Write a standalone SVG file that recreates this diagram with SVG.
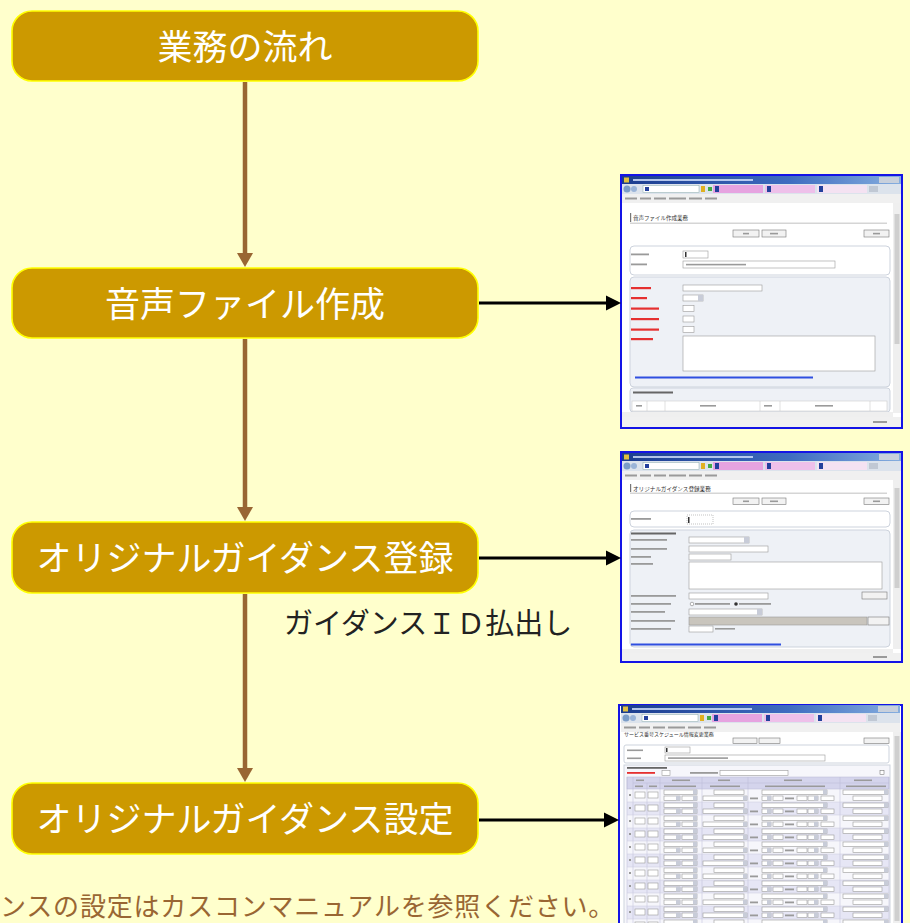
<svg xmlns="http://www.w3.org/2000/svg" width="910" height="923" viewBox="0 0 910 923">
<defs>
<style>
.node rect{fill:#CC9900;stroke:#FFFF00;stroke-width:1.6}
.node text{fill:#fff;font-family:"Noto Sans CJK JP","Noto Sans",sans-serif;font-size:35px;text-anchor:middle}
.flow line{stroke:#996633;stroke-width:4.5}
.flow polygon{fill:#996633}
.link line{stroke:#000;stroke-width:3}
.link polygon{fill:#000}
.frame{fill:#fff;stroke:#1414E6;stroke-width:2}
.tb{fill:url(#tbg)}
.bar{fill:#DCE3EC}
.menu{fill:#F0F0F0}
.ft{fill:#9a9a9a}
.fd{fill:#fff;stroke:#9a9a9a;stroke-width:0.6}
.ab{fill:#C8CCD8}
.btn{fill:#F2F2F2;stroke:#777;stroke-width:0.6}
.pw{fill:#fff;stroke:#CDD3DD;stroke-width:1}
.pb{fill:#EEF1F6;stroke:#CDD3DD;stroke-width:1}
.red{fill:#E53030}
.blu{fill:#2F4FE0}
.ico{fill:#23409C}
.sh{font-family:"Noto Sans CJK JP","Noto Sans",sans-serif;fill:#333}
</style>
<linearGradient id="tbg" x1="0" x2="1" y1="0" y2="0">
<stop offset="0" stop-color="#1B3C8E"/><stop offset="0.6" stop-color="#3E6CC0"/><stop offset="1" stop-color="#86AEDF"/>
</linearGradient>
<g id="chrome">
<rect class="tb" x="1" y="1" width="279" height="8"/>
<rect x="3" y="2.5" width="5" height="5" fill="#E0C040"/>
<rect x="12" y="4" width="120" height="2" fill="#D6E4FF" opacity="0.8"/>
<rect x="258" y="2" width="20" height="6" fill="#C8D0DC"/>
<rect class="bar" x="1" y="9" width="279" height="10"/>
<circle cx="6" cy="14" r="3.5" fill="#7A9CC8"/>
<circle cx="13" cy="14" r="3" fill="#9AB4D8"/>
<rect x="22" y="10.5" width="56" height="7" fill="#fff" stroke="#8AA" stroke-width="0.5"/>
<rect class="ico" x="24" y="12" width="4" height="4"/>
<rect x="80" y="11" width="4" height="6" fill="#E0B020"/>
<rect x="87" y="12" width="4" height="4" fill="#4A4"/>
<rect x="92" y="10" width="50" height="8" fill="#E6A3E0"/>
<rect class="ico" x="94" y="11" width="4" height="6"/>
<rect x="144" y="10" width="50" height="8" fill="#EEC0EA"/>
<rect class="ico" x="146" y="11" width="4" height="6"/>
<rect x="196" y="10" width="50" height="8" fill="#F4E2F2"/>
<rect class="ico" x="198" y="11" width="4" height="6"/>
<rect x="248" y="11" width="9" height="6" fill="#C0C8D4"/>
<rect class="menu" x="1" y="19" width="279" height="9"/>
<rect class="ft" x="4" y="22.5" width="12" height="2"/>
<rect class="ft" x="19" y="22.5" width="11" height="2"/>
<rect class="ft" x="33" y="22.5" width="12" height="2"/>
<rect class="ft" x="48" y="22.5" width="17" height="2"/>
<rect class="ft" x="68" y="22.5" width="13" height="2"/>
<rect class="ft" x="84" y="22.5" width="12" height="2"/>
</g>
<g id="rw">
<rect class="fd" x="635" y="3" width="10" height="6"/>
<rect class="fd" x="648" y="3" width="10" height="6"/>
<rect class="fd" x="664" y="1" width="33" height="4.5"/>
<rect class="fd" x="664" y="7" width="16" height="4.5"/>
<rect class="fd" x="682" y="7" width="15" height="4.5"/>
<rect class="fd" x="714" y="1" width="30" height="4.5"/>
<rect class="fd" x="703" y="7" width="44" height="4.5"/>
<rect class="fd" x="762" y="1" width="65" height="4.5"/>
<rect class="fd" x="762" y="7" width="9" height="4.5"/>
<rect class="fd" x="773" y="7" width="10" height="4.5"/>
<rect class="fd" x="797" y="7" width="10" height="4.5"/>
<rect class="fd" x="808" y="7" width="10" height="4.5"/>
<rect class="fd" x="821" y="7" width="13" height="4.5"/>
<rect class="fd" x="843" y="1" width="45" height="4.5"/>
<rect class="fd" x="853" y="7" width="29" height="4.5"/>
<rect class="ab" x="693" y="1" width="4" height="4.5"/>
<rect class="ab" x="676" y="7" width="4" height="4.5"/>
<rect class="ab" x="693" y="7" width="4" height="4.5"/>
<rect class="ab" x="743" y="7" width="4" height="4.5"/>
<rect class="ab" x="823" y="1" width="4" height="4.5"/>
<rect class="ab" x="767" y="7" width="4" height="4.5"/>
<rect class="ab" x="814" y="7" width="4" height="4.5"/>
<rect class="ab" x="884" y="1" width="4" height="4.5"/>
<rect class="ft" x="750" y="8.5" width="8" height="1.8"/>
<rect class="ft" x="785" y="8.5" width="9" height="1.8"/>
<rect class="ft" x="629" y="5" width="2" height="2"/>
</g>
</defs>

<rect x="0" y="0" width="910" height="923" fill="#FFFFCC"/>

<!-- screenshot 1 -->
<g id="screen1">
<rect class="frame" x="621" y="175" width="281" height="253"/>
<use href="#chrome" x="621" y="175"/>
<rect x="893" y="203" width="8" height="210" fill="#EFEFEF"/>
<rect x="894.5" y="214" width="5" height="130" fill="#CFCFCF"/>
<rect x="630" y="213" width="1.2" height="9" fill="#777"/>
<text class="sh" x="633" y="220" font-size="5.5">音声ファイル作成業務</text>
<rect x="630" y="222.5" width="257" height="1.5" fill="#D5D5D5"/>
<rect class="btn" x="733" y="230" width="26" height="7"/>
<rect class="btn" x="762" y="230" width="24" height="7"/>
<rect class="btn" x="864" y="230" width="25" height="7"/>
<rect class="ft" x="743" y="232.8" width="6" height="1.6"/>
<rect class="ft" x="770" y="232.8" width="8" height="1.6"/>
<rect class="ft" x="873" y="232.8" width="7" height="1.6"/>
<rect class="pw" x="630" y="246" width="260" height="29" rx="4"/>
<rect class="ft" x="631" y="253.5" width="18" height="1.8"/>
<rect class="ft" x="631" y="263.5" width="16" height="1.8"/>
<rect class="fd" x="683" y="251" width="25" height="7"/>
<rect x="685" y="252" width="1.5" height="5" fill="#333"/>
<rect class="fd" x="683" y="261" width="152" height="7"/>
<rect class="ft" x="686" y="263.8" width="60" height="1.6"/>
<rect class="pb" x="630" y="277" width="260" height="110" rx="4"/>
<rect class="red" x="631" y="287" width="20" height="2.2"/>
<rect class="red" x="631" y="297" width="16" height="2.2"/>
<rect class="red" x="631" y="307.5" width="28" height="2.2"/>
<rect class="red" x="631" y="318" width="28" height="2.2"/>
<rect class="red" x="631" y="328.5" width="28" height="2.2"/>
<rect class="red" x="631" y="338" width="22" height="2.2"/>
<rect class="fd" x="683" y="285" width="79" height="6"/>
<rect class="fd" x="683" y="295" width="20" height="6"/>
<rect class="ab" x="698" y="295" width="5" height="6"/>
<rect class="fd" x="683" y="305.5" width="11" height="6"/>
<rect class="fd" x="683" y="316" width="11" height="6"/>
<rect class="fd" x="683" y="326.5" width="11" height="6"/>
<rect class="fd" x="683" y="336" width="192" height="35"/>
<rect class="blu" x="635" y="376.5" width="178" height="2"/>
<rect class="pb" x="630" y="388" width="260" height="24" rx="3"/>
<rect x="633" y="391.5" width="40" height="2" fill="#666"/>
<rect x="632" y="401" width="255" height="10" fill="#fff" stroke="#CCC" stroke-width="0.6"/>
<path d="M647 401V411M665 401V411M760 401V411M780 401V411M870 401V411" stroke="#CCC" stroke-width="0.6"/>
<rect class="ft" x="636" y="405" width="6" height="1.6"/>
<rect class="ft" x="700" y="405" width="16" height="1.6"/>
<rect class="ft" x="764" y="405" width="8" height="1.6"/>
<rect class="ft" x="815" y="405" width="18" height="1.6"/>
<rect x="622" y="412" width="271" height="5" fill="#EFEFEF"/>
<rect x="622" y="417" width="279" height="10" fill="#F0F0F0"/>
<rect class="ft" x="873" y="421" width="14" height="2"/>
</g>

<!-- screenshot 2 -->
<g id="screen2">
<rect class="frame" x="621" y="452" width="281" height="210"/>
<use href="#chrome" x="621" y="452"/>
<rect x="893" y="480" width="8" height="169" fill="#EFEFEF"/>
<rect x="894.5" y="488" width="5" height="100" fill="#CFCFCF"/>
<rect x="630" y="484" width="1.2" height="8" fill="#777"/>
<text class="sh" x="633" y="491" font-size="5.6">オリジナルガイダンス登録業務</text>
<rect x="630" y="492.5" width="257" height="1.5" fill="#D5D5D5"/>
<rect class="btn" x="733" y="498" width="26" height="6.5"/>
<rect class="btn" x="762" y="498" width="24" height="6.5"/>
<rect class="btn" x="864" y="498" width="25" height="6.5"/>
<rect class="ft" x="743" y="500.5" width="6" height="1.6"/>
<rect class="ft" x="770" y="500.5" width="8" height="1.6"/>
<rect class="ft" x="873" y="500.5" width="7" height="1.6"/>
<rect class="pw" x="630" y="511" width="260" height="16" rx="4"/>
<rect class="ft" x="631" y="518" width="20" height="1.8"/>
<rect class="fd" x="687" y="515" width="26" height="9" stroke-dasharray="1 1"/>
<rect x="688" y="517" width="1.5" height="6" fill="#333"/>
<rect class="pb" x="630" y="530" width="260" height="117" rx="4"/>
<rect x="631" y="532.5" width="45" height="2" fill="#666"/>
<rect class="ft" x="631" y="539" width="36" height="1.8"/>
<rect class="ft" x="631" y="548" width="36" height="1.8"/>
<rect class="ft" x="631" y="556" width="20" height="1.8"/>
<rect class="ft" x="631" y="563" width="22" height="1.8"/>
<rect class="ft" x="631" y="595" width="45" height="1.8"/>
<rect class="ft" x="631" y="603" width="40" height="1.8"/>
<rect class="ft" x="631" y="611" width="34" height="1.8"/>
<rect class="ft" x="631" y="620" width="44" height="1.8"/>
<rect class="ft" x="631" y="628" width="40" height="1.8"/>
<rect class="fd" x="689" y="537" width="60" height="6"/>
<rect class="ab" x="744" y="537" width="5" height="6"/>
<rect class="fd" x="689" y="546" width="79" height="6"/>
<rect class="fd" x="689" y="554" width="42" height="6"/>
<rect class="fd" x="689" y="562" width="193" height="27"/>
<rect class="fd" x="689" y="593" width="79" height="6"/>
<rect class="btn" x="862" y="592" width="25" height="7"/>
<circle cx="692" cy="604" r="1.8" fill="#fff" stroke="#666" stroke-width="0.5"/>
<rect class="ft" x="695" y="603" width="35" height="1.8"/>
<circle cx="736" cy="604" r="1.8" fill="#333"/>
<rect class="ft" x="739" y="603" width="32" height="1.8"/>
<rect class="fd" x="689" y="609" width="73" height="6"/>
<rect class="ab" x="757" y="609" width="5" height="6"/>
<rect x="689" y="617" width="178" height="8" fill="#C9C5BD" stroke="#999" stroke-width="0.6"/>
<rect class="btn" x="868" y="617" width="21" height="8"/>
<rect class="fd" x="689" y="626" width="24" height="6"/>
<rect class="ft" x="715" y="628" width="20" height="1.6"/>
<rect class="blu" x="631" y="643.5" width="150" height="2"/>
<rect x="622" y="649" width="271" height="4" fill="#EFEFEF"/>
<rect x="622" y="653" width="279" height="8" fill="#F0F0F0"/>
<rect class="ft" x="873" y="656" width="14" height="2"/>
</g>

<!-- screenshot 3 -->
<g id="screen3">
<rect class="frame" x="619" y="705" width="283" height="230"/>
<use href="#chrome" x="620" y="704"/>
<rect x="893" y="732" width="8" height="200" fill="#EFEFEF"/>
<rect x="894.5" y="736" width="5" height="185" fill="#CFCFCF"/>
<text class="sh" x="624" y="736" font-size="5">サービス番号スケジュール情報変更業務</text>
<rect class="btn" x="733" y="738" width="24" height="5.5"/>
<rect class="btn" x="759" y="738" width="21" height="5.5"/>
<rect class="btn" x="864" y="738" width="25" height="5.5"/>
<rect class="pw" x="624" y="745" width="265" height="18" rx="2"/>
<rect class="ft" x="627" y="749.5" width="16" height="1.6"/>
<rect class="ft" x="627" y="757.5" width="14" height="1.6"/>
<rect class="fd" x="665" y="747" width="25" height="6"/>
<rect x="666" y="748" width="1.5" height="4" fill="#333"/>
<rect class="fd" x="665" y="755" width="160" height="6"/>
<rect class="ft" x="668" y="757.3" width="60" height="1.6"/>
<rect x="624" y="765" width="266" height="170" fill="#F6F6FB" stroke="#CDD3DD" stroke-width="1"/>
<rect x="627" y="767" width="40" height="1.8" fill="#666"/>
<rect class="red" x="627" y="772" width="28" height="1.8"/>
<rect class="fd" x="662" y="770.5" width="8" height="5"/>
<rect class="ft" x="690" y="772" width="28" height="1.8"/>
<rect class="fd" x="720" y="770.5" width="68" height="5"/>
<rect x="880" y="770.5" width="4" height="4" fill="#fff" stroke="#666" stroke-width="0.5"/>
<rect x="627" y="777" width="262" height="12" fill="#D4D4EC" stroke="#B8B8D4" stroke-width="0.5"/>
<rect x="627" y="802" width="262" height="13" fill="#E6E6F5"/>
<rect x="627" y="828" width="262" height="13" fill="#E6E6F5"/>
<rect x="627" y="854" width="262" height="13" fill="#E6E6F5"/>
<rect x="627" y="880" width="262" height="13" fill="#E6E6F5"/>
<rect x="627" y="906" width="262" height="13" fill="#E6E6F5"/>
<path d="M627 777V923M633 777V923M647 783V923M660 777V923M702 777V923M748 777V923M840 777V923M889 777V923M633 783H660M660 783H889" stroke="#B8B8D4" stroke-width="0.5" fill="none"/>
<path d="M627 802H889M627 815H889M627 828H889M627 841H889M627 854H889M627 867H889M627 880H889M627 893H889M627 906H889M627 919H889" stroke="#C8C8DC" stroke-width="0.5"/>
<rect class="ft" x="636" y="779.5" width="8" height="1.6"/>
<rect class="ft" x="672" y="779.5" width="18" height="1.6"/>
<rect class="ft" x="718" y="779.5" width="12" height="1.6"/>
<rect class="ft" x="784" y="779.5" width="18" height="1.6"/>
<rect class="ft" x="854" y="779.5" width="18" height="1.6"/>
<rect class="ft" x="635" y="785.5" width="8" height="1.6"/>
<rect class="ft" x="649" y="785.5" width="8" height="1.6"/>
<rect class="ft" x="664" y="785.5" width="32" height="1.6"/>
<rect class="ft" x="710" y="785.5" width="30" height="1.6"/>
<rect class="ft" x="765" y="785.5" width="60" height="1.6"/>
<rect class="ft" x="846" y="785.5" width="40" height="1.6"/>
<use href="#rw" y="789"/>
<use href="#rw" y="802"/>
<use href="#rw" y="815"/>
<use href="#rw" y="828"/>
<use href="#rw" y="841"/>
<use href="#rw" y="854"/>
<use href="#rw" y="867"/>
<use href="#rw" y="880"/>
<use href="#rw" y="893"/>
<use href="#rw" y="906"/>
<use href="#rw" y="919"/>
</g>

<!-- connectors -->
<g id="connectors">
<g class="flow">
<line x1="245" y1="82" x2="245" y2="254"/>
<polygon points="237,253 253,253 245,267"/>
<line x1="245" y1="339" x2="245" y2="508"/>
<polygon points="237,507 253,507 245,521"/>
<line x1="245" y1="594" x2="245" y2="769"/>
<polygon points="237,768 253,768 245,782"/>
</g>
<g class="link">
<line x1="479" y1="303" x2="608" y2="303"/>
<polygon points="606,295.5 606,310.5 621,303"/>
<line x1="479" y1="558" x2="608" y2="558"/>
<polygon points="606,550.5 606,565.5 621,558"/>
<line x1="479" y1="820" x2="606" y2="820"/>
<polygon points="604,812.5 604,827.5 619,820"/>
</g>
</g>

<!-- nodes -->
<g id="node1" class="node">
<rect x="12" y="11" width="466" height="70" rx="20"/>
<text x="245" y="60">業務の流れ</text>
</g>
<g id="node2" class="node">
<rect x="12" y="268" width="466" height="70" rx="20"/>
<text x="245" y="317">音声ファイル作成</text>
</g>
<g id="node3" class="node">
<rect x="12" y="522" width="466" height="71" rx="20"/>
<text x="245" y="571">オリジナルガイダンス登録</text>
</g>
<g id="node4" class="node">
<rect x="12" y="783" width="466" height="71" rx="20"/>
<text x="245" y="832">オリジナルガイダンス設定</text>
</g>

<text x="284" y="634" font-family="Noto Sans CJK JP, Noto Sans, sans-serif" font-size="29" fill="#222">ガイダンスＩＤ払出し</text>
<text x="0" y="916" font-family="Noto Sans CJK JP, Noto Sans, sans-serif" font-size="26" letter-spacing="0.8" fill="#996633">ンスの設定はカスコンマニュアルを参照ください。</text>
</svg>
